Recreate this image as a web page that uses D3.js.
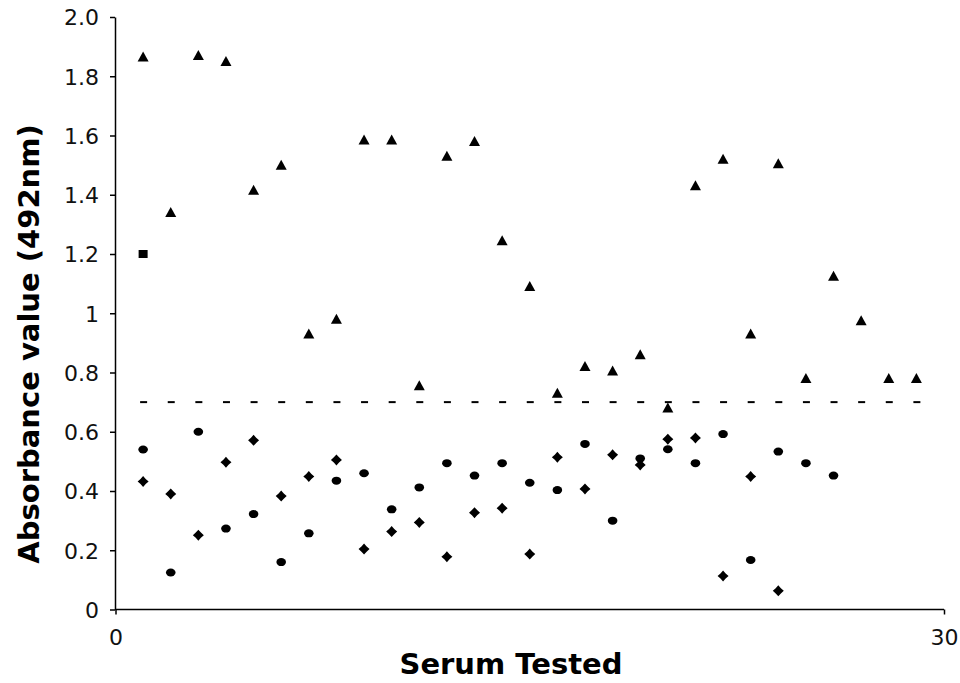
<!DOCTYPE html>
<html>
<head>
<meta charset="utf-8">
<script src="https://cdn.jsdelivr.net/npm/d3@7"></script>
<style>
	body { margin: 0; background: #fff; }
	.axis path, .axis line { stroke: #000; stroke-width: 1.5px; }
	.axis text { font-family: "DejaVu Sans", sans-serif; font-size: 22px; fill: #111; }
	.title { font-family: "DejaVu Sans", sans-serif; font-size: 29px; font-weight: bold; fill: #000; }
</style>
</head>
<body>
<svg id="chart"></svg>
<script>
(function(){
	'use strict';

	// serum number for each reading
	var serum = [1, 2, 3, 4, 5, 6, 7, 8, 9, 10, 11, 12, 13, 14, 15, 16, 17, 18, 19, 20,
		21, 22, 23, 24, 25, 26, 27, 28, 29];

	// triangles - positive sera
	var positive = [1.865, 1.34, 1.87, 1.85, 1.415, 1.50, 0.93, 0.98, 1.585, 1.585,
		0.755, 1.53, 1.58, 1.245, 1.09, 0.73, 0.82, 0.805, 0.86, 0.68,
		1.43, 1.52, 0.93, 1.505, 0.78, 1.125, 0.975, 0.78, 0.78];

	// circles
	var groupB = [0.54, 0.125, 0.60, 0.273, 0.322, 0.16, 0.257, 0.435, 0.46, 0.338,
		0.412, 0.494, 0.452, 0.494, 0.428, 0.403, 0.559, 0.30, 0.51, 0.541,
		0.494, 0.592, 0.167, 0.533, 0.494, 0.452];

	// diamonds
	var groupC = [0.432, 0.39, 0.251, 0.497, 0.571, 0.383, 0.449, 0.505, 0.204, 0.263,
		0.294, 0.178, 0.327, 0.342, 0.187, 0.514, 0.407, 0.522, 0.488, 0.575,
		0.579, 0.113, 0.449, 0.063];

	// square - control
	var control = [{serum: 1, value: 1.2}];

	var cutoff = 0.7;

	var xTicks = [0, 30];
	var yTicks = [0, 0.2, 0.4, 0.6, 0.8, 1, 1.2, 1.4, 1.6, 1.8, 2.0];
	var yLabels = ["0", "0.2", "0.4", "0.6", "0.8", "1", "1.2", "1.4", "1.6", "1.8", "2.0"];

	var svg = d3.select("#chart"),
		width = 960,
		height = 683;

	svg.attr("width", width).attr("height", height);

	var margin = {top: 17, right: 16, bottom: 74, left: 115},
		h = height - margin.top - margin.bottom,
		g = svg.append("g").attr("transform", "translate(" + margin.left + "," + margin.top + ")");

	var x = d3.scaleLinear().domain([0, 30]).range([0.5, 829]);
	var y = d3.scaleLinear().domain([0, 2]).range([592.5, 0]);

	var yAxis = g.append("g")
		.attr("class", "axis")
		.call(d3.axisLeft(y).tickValues(yTicks).tickSize(5).tickSizeOuter(0)
			.tickFormat(function(d, i){ return yLabels[i]; }));
	yAxis.selectAll("text").attr("x", -16).attr("dy", "0.36em");

	var xAxis = g.append("g")
		.attr("class", "axis")
		.attr("transform", "translate(0," + y(0) + ")")
		.call(d3.axisBottom(x).tickValues(xTicks).tickSize(5).tickSizeOuter(0));
	xAxis.selectAll("text").attr("y", 20);
	xAxis.select(".domain").attr("d", "M" + x(0) + ",0H" + x(30));

	// cut-off drawn as dash markers at every serum
	g.append("g").selectAll("line")
		.data(serum)
		.enter().append("line")
		.attr("x1", function(d){ return x(d) - 3; })
		.attr("x2", function(d){ return x(d) + 4; })
		.attr("y1", y(cutoff))
		.attr("y2", y(cutoff))
		.attr("stroke", "#000")
		.attr("stroke-width", 2);

	function star(){
		// small four pointed star used for the diamond series
		var p = d3.path();
		p.moveTo(0, -5.5);
		p.lineTo(2.6, -2.6);
		p.lineTo(5.5, 0);
		p.lineTo(2.6, 2.6);
		p.lineTo(0, 5.5);
		p.lineTo(-2.6, 2.6);
		p.lineTo(-5.5, 0);
		p.lineTo(-2.6, -2.6);
		p.closePath();
		return p.toString();
	}

	function tri(){
		var p = d3.path();
		p.moveTo(0, -5.5);
		p.lineTo(5.5, 4.5);
		p.lineTo(-5.5, 4.5);
		p.closePath();
		return p.toString();
	}

	g.append("g").selectAll("path")
		.data(groupC)
		.enter().append("path")
		.attr("d", star())
		.attr("transform", function(d, i){ return "translate(" + x(serum[i]) + "," + y(d) + ")"; })
		.attr("fill", "#000");

	g.append("g").selectAll("ellipse")
		.data(groupB)
		.enter().append("ellipse")
		.attr("cx", function(d, i){ return x(serum[i]); })
		.attr("cy", function(d){ return y(d); })
		.attr("rx", 4.8)
		.attr("ry", 4)
		.attr("fill", "#000");

	g.append("g").selectAll("path")
		.data(positive)
		.enter().append("path")
		.attr("d", tri())
		.attr("transform", function(d, i){ return "translate(" + x(serum[i]) + "," + y(d) + ")"; })
		.attr("fill", "#000");

	g.append("g").selectAll("rect")
		.data(control)
		.enter().append("rect")
		.attr("x", function(d){ return x(d.serum) - 4.5; })
		.attr("y", function(d){ return y(d.value) - 4; })
		.attr("width", 9)
		.attr("height", 8)
		.attr("fill", "#000");

	svg.append("text")
		.attr("class", "title")
		.attr("text-anchor", "middle")
		.attr("transform", "translate(39,344) rotate(-90)")
		.text("Absorbance value (492nm)");

	svg.append("text")
		.attr("class", "title")
		.attr("text-anchor", "middle")
		.attr("x", 511)
		.attr("y", 674)
		.text("Serum Tested");

})();
</script>
</body>
</html>
